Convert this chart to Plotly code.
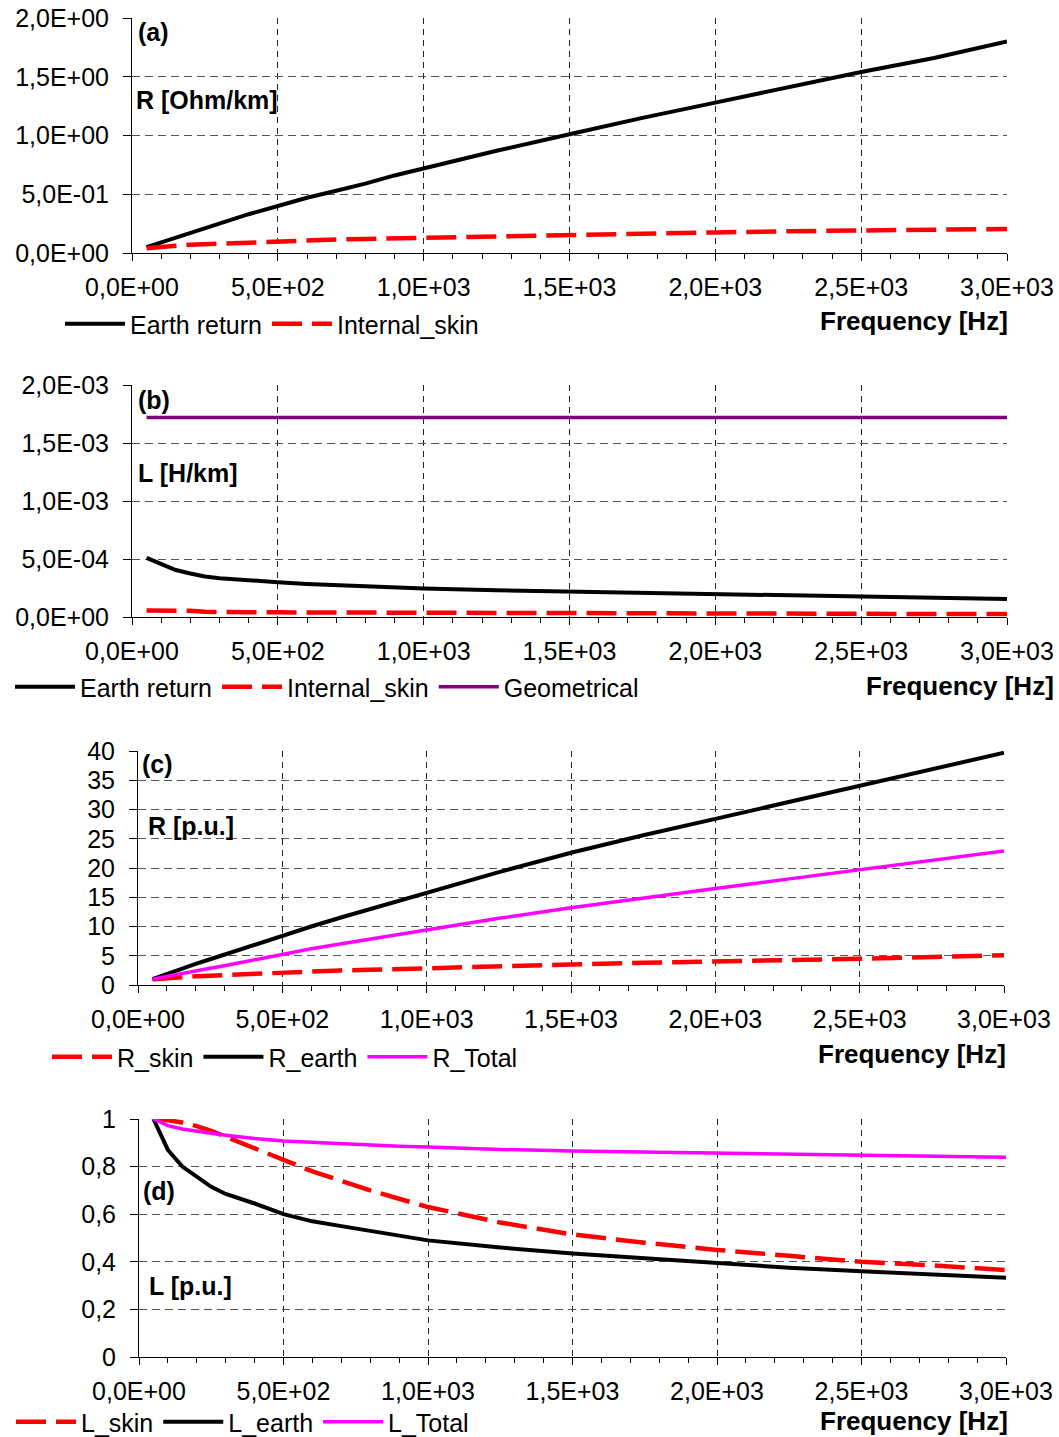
import plotly.graph_objects as go

W, H = 1059, 1437

# ---------------- data ----------------
freq = [50, 100, 150, 200, 250, 300, 400, 500, 600, 700, 800, 900, 1000,
        1250, 1500, 1750, 2000, 2250, 2500, 2750, 3000]

# (a) R [Ohm/km]
r_earth_ohm = [0.05, 0.09, 0.13, 0.17, 0.21, 0.25, 0.33, 0.40, 0.47, 0.53, 0.59, 0.66, 0.72,
               0.87, 1.01, 1.15, 1.28, 1.41, 1.54, 1.66, 1.80]
r_skin_ohm = [0.04, 0.055, 0.062, 0.07, 0.075, 0.08, 0.09, 0.10, 0.107, 0.115, 0.12, 0.125, 0.13,
              0.145, 0.155, 0.165, 0.175, 0.185, 0.19, 0.195, 0.205]

# (b) L [H/km]
l_earth_h = [5.1e-4, 4.6e-4, 4.05e-4, 3.75e-4, 3.5e-4, 3.35e-4, 3.15e-4, 3.0e-4, 2.85e-4, 2.75e-4,
             2.65e-4, 2.55e-4, 2.45e-4, 2.3e-4, 2.2e-4, 2.05e-4, 1.95e-4, 1.85e-4, 1.78e-4,
             1.7e-4, 1.55e-4]
l_skin_h = [5.5e-5, 5.5e-5, 5.4e-5, 5.3e-5, 4.5e-5, 4.2e-5, 4.1e-5, 4.0e-5, 3.9e-5, 3.8e-5,
            3.7e-5, 3.6e-5, 3.5e-5, 3.3e-5, 3.1e-5, 3.0e-5, 2.9e-5, 2.8e-5, 2.7e-5, 2.6e-5, 2.5e-5]
l_geom_h = [1.72e-3] * len(freq)

# (c) R [p.u.]
r_skin_pu = [1.0, 1.2, 1.35, 1.5, 1.6, 1.7, 2.0, 2.2, 2.35, 2.5, 2.6, 2.75, 2.9,
             3.2, 3.5, 3.8, 4.0, 4.3, 4.5, 4.8, 5.1]
r_earth_pu = [1.0, 1.9, 2.75, 3.6, 4.4, 5.2, 6.9, 8.5, 10.0, 11.5, 12.9, 14.4, 15.8,
              19.3, 22.6, 25.6, 28.4, 31.2, 34.0, 36.8, 39.7]
r_total_pu = [1.0, 1.5, 1.95, 2.4, 2.85, 3.3, 4.3, 5.3, 6.2, 7.0, 7.8, 8.6, 9.5,
              11.4, 13.2, 14.9, 16.5, 18.1, 19.7, 21.3, 22.9]

# (d) L [p.u.]
l_skin_pu = [1.0, 0.995, 0.985, 0.97, 0.95, 0.925, 0.88, 0.83, 0.78, 0.74, 0.70, 0.665, 0.63,
             0.565, 0.515, 0.48, 0.45, 0.425, 0.40, 0.385, 0.365]
l_earth_pu = [1.0, 0.87, 0.80, 0.76, 0.715, 0.685, 0.645, 0.60, 0.57, 0.55, 0.53, 0.51, 0.49,
              0.46, 0.435, 0.415, 0.395, 0.375, 0.36, 0.345, 0.333]
l_total_pu = [1.0, 0.972, 0.958, 0.948, 0.94, 0.932, 0.918, 0.908, 0.902, 0.896, 0.891, 0.886,
              0.882, 0.872, 0.866, 0.861, 0.857, 0.853, 0.849, 0.844, 0.839]

# tick labels
x_tickvals = [0, 500, 1000, 1500, 2000, 2500, 3000]
x_ticktext = ["0,0E+00", "5,0E+02", "1,0E+03", "1,5E+03", "2,0E+03", "2,5E+03", "3,0E+03"]
ya_tickvals = [0, 0.5, 1.0, 1.5, 2.0]
ya_ticktext = ["0,0E+00", "5,0E-01", "1,0E+00", "1,5E+00", "2,0E+00"]
yb_tickvals = [0, 5e-4, 1e-3, 1.5e-3, 2e-3]
yb_ticktext = ["0,0E+00", "5,0E-04", "1,0E-03", "1,5E-03", "2,0E-03"]
yc_tickvals = [0, 5, 10, 15, 20, 25, 30, 35, 40]
yc_ticktext = ["0", "5", "10", "15", "20", "25", "30", "35", "40"]
yd_tickvals = [0, 0.2, 0.4, 0.6, 0.8, 1.0]
yd_ticktext = ["0", "0,2", "0,4", "0,6", "0,8", "1"]

# ---------------- style ----------------
FONT = "Liberation Sans, Arial, sans-serif"
FS = 25
BLACK = "#000000"
RED = "#FF0000"
PURPLE = "#800080"
MAGENTA = "#FF00FF"
DASH = "30px,10px"


def px(x):
    return x / W


def py(y):
    return 1 - y / H


panels = [
    # x0, x1, y0(top), y1(bottom)
    (132, 1007, 18, 253),
    (132, 1007, 385, 617),
    (138, 1004, 751, 985),
    (139, 1006, 1119, 1357),
]

fig = go.Figure()

series = [
    (1, "Earth return", r_earth_ohm, BLACK, 4, "solid", "legend"),
    (1, "Internal_skin", r_skin_ohm, RED, 4.5, DASH, "legend"),
    (2, "Earth return", l_earth_h, BLACK, 4, "solid", "legend2"),
    (2, "Internal_skin", l_skin_h, RED, 4.5, DASH, "legend2"),
    (2, "Geometrical", l_geom_h, PURPLE, 3.5, "solid", "legend2"),
    (3, "R_skin", r_skin_pu, RED, 4.5, DASH, "legend3"),
    (3, "R_earth", r_earth_pu, BLACK, 4, "solid", "legend3"),
    (3, "R_Total", r_total_pu, MAGENTA, 3.5, "solid", "legend3"),
    (4, "L_skin", l_skin_pu, RED, 4.5, DASH, "legend4"),
    (4, "L_earth", l_earth_pu, BLACK, 4, "solid", "legend4"),
    (4, "L_Total", l_total_pu, MAGENTA, 3.5, "solid", "legend4"),
]

for k, name, ys, color, width, dash, leg in series:
    fig.add_trace(go.Scatter(
        x=freq, y=ys, name=name, mode="lines",
        line=dict(color=color, width=width, dash=dash),
        xaxis="x" if k == 1 else f"x{k}", yaxis="y" if k == 1 else f"y{k}",
        legend=leg, showlegend=True,
    ))

ytick_sets = [
    ([0, 2.0], ya_tickvals, ya_ticktext),
    ([0, 2e-3], yb_tickvals, yb_ticktext),
    ([0, 40], yc_tickvals, yc_ticktext),
    ([0, 1.0], yd_tickvals, yd_ticktext),
]

layout = dict(
    template="none",
    width=W, height=H,
    margin=dict(l=0, r=0, t=0, b=0, pad=0, autoexpand=False),
    paper_bgcolor="white", plot_bgcolor="white",
    font=dict(family=FONT, size=FS, color="black"),
)

for i, ((x0, x1, yt, yb), (yr, yv, yt_text)) in enumerate(zip(panels, ytick_sets)):
    k = i + 1
    xk = "xaxis" if k == 1 else f"xaxis{k}"
    yk = "yaxis" if k == 1 else f"yaxis{k}"
    layout[xk] = dict(
        domain=[px(x0), px(x1)], anchor="y" if k == 1 else f"y{k}",
        range=[0, 3000], tickvals=x_tickvals, ticktext=x_ticktext,
        showline=True, linecolor="black", linewidth=1,
        ticks="outside", ticklen=7, tickcolor="black", tickwidth=1,
        minor=dict(dtick=100, ticks="outside", ticklen=5, tickcolor="black", showgrid=False),
        showgrid=True, gridcolor="#222222", griddash="6px,5px", gridwidth=1,
        zeroline=False, ticklabelstandoff=5, automargin=False,
        tickfont=dict(family=FONT, size=FS, color="black"),
    )
    layout[yk] = dict(
        domain=[py(yb), py(yt)], anchor="x" if k == 1 else f"x{k}",
        range=yr, tickvals=yv, ticktext=yt_text,
        showline=True, linecolor="black", linewidth=1,
        ticks="outside", ticklen=8, tickcolor="black", tickwidth=1,
        showgrid=True, gridcolor="#555555", griddash="8px,5px", gridwidth=1,
        zeroline=False, ticklabelstandoff=9, automargin=False,
        tickfont=dict(family=FONT, size=FS, color="black"),
    )

legend_pos = [
    ("legend", 60, 324),
    ("legend2", 10, 687),
    ("legend3", 47, 1057),
    ("legend4", 11, 1422),
]
for lname, lx, ly in legend_pos:
    layout[lname] = dict(
        orientation="h", x=px(lx), y=py(ly), xanchor="left", yanchor="middle",
        xref="paper", yref="paper",
        font=dict(family=FONT, size=FS, color="black"),
        itemwidth=60, bgcolor="rgba(0,0,0,0)", borderwidth=0,
        tracegroupgap=0,
    )

fig.update_layout(**layout)

# text labels
labels = [
    ("(a)", 136, 32), ("R [Ohm/km]", 134, 100),
    ("(b)", 136, 400), ("L [H/km]", 136, 473),
    ("(c)", 140, 764), ("R [p.u.]", 146, 826),
    ("(d)", 141, 1191), ("L [p.u.]", 147, 1286),
]
for txt, x, y in labels:
    fig.add_annotation(text=f"<b>{txt}</b>", x=px(x), y=py(y), xref="paper", yref="paper",
                       xanchor="left", yanchor="middle", showarrow=False,
                       font=dict(family=FONT, size=FS, color="black"))

freq_labels = [(1010, 321), (1056, 686), (1008, 1054), (1010, 1421)]
for x, y in freq_labels:
    fig.add_annotation(text="<b>Frequency [Hz]</b>", x=px(x), y=py(y), xref="paper", yref="paper",
                       xanchor="right", yanchor="middle", showarrow=False,
                       font=dict(family=FONT, size=FS + 1, color="black"))

fig.write_html("out.html")
